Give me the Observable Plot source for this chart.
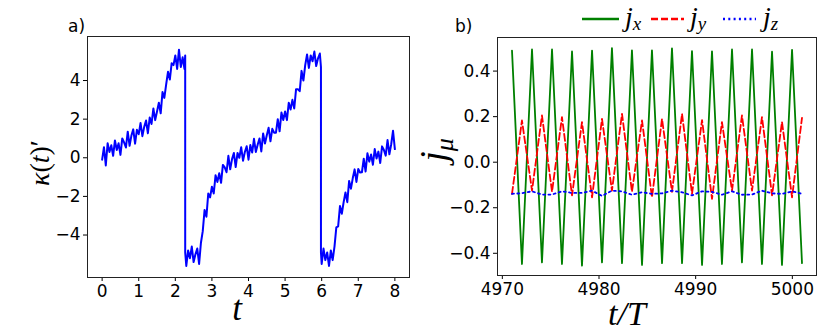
<!DOCTYPE html>
<html><head><meta charset="utf-8">
<script src="https://cdn.jsdelivr.net/npm/d3@7"></script>
<script src="https://cdn.jsdelivr.net/npm/@observablehq/plot@0.6"></script>
<style>
body{margin:0;background:#fff;}
#fig{position:relative;width:831px;height:336px;overflow:hidden;background:#fff;}
#fig svg{position:absolute;top:0;}
</style></head><body><div id="fig"></div>
<script>
// Panel a: kappa(t)'
const kT = [0,0.05,0.10,0.15,0.20,0.25,0.30,0.35,0.40,0.45,0.50,0.55,0.60,0.65,0.70,0.75,0.80,0.85,0.90,0.95,
1.00,1.05,1.10,1.15,1.20,1.25,1.30,1.35,1.40,1.45,1.50,1.55,1.60,1.65,1.70,1.75,1.80,1.85,1.90,1.95,
2.00,2.05,2.10,2.15,2.20,2.25,2.27,2.27,2.30,2.35,2.40,2.45,2.50,2.55,2.60,2.65,2.70,2.75,2.80,2.85,2.90,2.95,
3.00,3.05,3.10,3.15,3.20,3.25,3.30,3.35,3.40,3.45,3.50,3.55,3.60,3.65,3.70,3.75,3.80,3.85,3.90,3.95,
4.00,4.05,4.10,4.15,4.20,4.25,4.30,4.35,4.40,4.45,4.50,4.55,4.60,4.65,4.70,4.75,4.80,4.85,4.90,4.95,
5.00,5.05,5.10,5.15,5.20,5.25,5.30,5.35,5.40,5.45,5.50,5.55,5.60,5.65,5.70,5.75,5.80,5.85,5.90,5.95,5.98,5.98,
6.00,6.05,6.10,6.15,6.20,6.25,6.30,6.35,6.40,6.45,6.50,6.55,6.60,6.65,6.70,6.75,6.80,6.85,6.90,6.95,
7.00,7.05,7.10,7.15,7.20,7.25,7.30,7.35,7.40,7.45,7.50,7.55,7.60,7.65,7.70,7.75,7.80,7.85,7.90,7.95,8.00];
const kV = [-0.1,0.55,-0.4,0.75,0.3,0.65,0.1,0.9,0.4,0.75,0.15,1.0,0.8,0.53,1.35,0.62,1.15,1.47,0.73,1.45,
1.22,1.8,1.12,1.6,1.93,1.27,2.08,1.75,2.55,1.95,2.4,2.85,2.3,3.4,3.1,3.8,4.45,4.05,4.9,4.8,
5.3,4.6,5.6,4.7,5.2,4.6,5.3,-4.9,
-5.6,-4.8,-5.2,-4.6,-5.4,-5.0,-4.7,-5.5,-4.4,
-3.8,-2.7,-3.05,-1.85,-2.05,-1.5,-1.85,-0.9,-1.25,-0.8,-1.3,-0.37,-0.5,-0.75,0.1,-0.6,-0.07,0.25,-0.48,0.25,
0.0,0.55,-0.15,0.3,0.6,-0.1,0.66,0.27,0.98,0.3,0.67,1.0,0.33,1.26,0.74,1.17,1.55,0.85,1.5,1.3,
1.3,2.0,1.37,2.34,1.96,2.4,1.95,2.85,2.5,3.0,2.55,3.55,3.55,3.45,4.5,4.0,4.8,5.35,4.65,5.3,5.0,5.5,4.75,5.15,5.4,
4.7,-4.9,
-5.5,-4.7,-5.3,-4.9,-5.6,-4.8,-5.3,-4.6,
-3.6,-3.55,-2.5,-2.9,-2.3,-1.8,-2.3,-1.2,-1.6,-1.05,-0.6,-1.25,-0.58,-0.76,-0.75,-0.05,-0.71,0.23,-0.2,0.17,
-0.36,0.45,-0.04,0.32,-0.27,0.59,0.4,0.11,0.92,0.18,0.7,1.4,0.45];
const aXTicks = [0,1,2,3,4,5,6,7,8];
const aYTicks = [-4,-2,0,2,4];

// Panel b: currents
const jT = [4971.00,4972.03,4973.07,4974.10,4975.14,4976.17,4977.21,4978.24,4979.28,4980.31,
4981.34,4982.38,4983.41,4984.45,4985.48,4986.52,4987.55,4988.59,4989.62,4990.66,
4991.69,4992.72,4993.76,4994.79,4995.83,4996.86,4997.90,4998.93,4999.97,5001.00];
const jx = [0.49,-0.447,0.495,-0.44,0.495,-0.447,0.486,-0.454,0.49,-0.44,
0.501,-0.443,0.491,-0.451,0.491,-0.443,0.5,-0.443,0.488,-0.451,
0.487,-0.447,0.495,-0.44,0.495,-0.447,0.485,-0.451,0.493,-0.443];
const jy = [-0.139,0.183,-0.125,0.205,-0.13,0.198,-0.146,0.176,-0.154,0.19,
-0.125,0.212,-0.13,0.183,-0.154,0.19,-0.13,0.212,-0.139,0.185,
-0.161,0.176,-0.125,0.205,-0.125,0.198,-0.146,0.176,-0.154,0.195];
const jz = [-0.139,-0.136,-0.128,-0.142,-0.142,-0.128,-0.135,-0.135,-0.125,-0.148,
-0.125,-0.128,-0.143,-0.132,-0.139,-0.137,-0.125,-0.132,-0.146,-0.128,
-0.13,-0.143,-0.128,-0.143,-0.142,-0.125,-0.137,-0.139,-0.128,-0.139];
const bXTicks = [4970,4980,4990,5000];
const bYTicks = [-0.4,-0.2,0.0,0.2,0.4];
const seriesNames = ["x","y","z"];
const seriesColors = ["#008000","#ff0000","#0000ff"];

const minus = s => s.replace("-", "\u2212");
const style = {fontFamily: "DejaVu Sans", fontSize: "17px", color: "#000", background: "transparent", overflow: "visible"};
const fig = document.getElementById("fig");

// ---- Panel a
const aIdx = d3.range(kT.length);
const pa = Plot.plot({
  width: 420, height: 336,
  marginLeft: 87, marginRight: 11, marginTop: 36, marginBottom: 59,
  style,
  x: {domain: [-0.4, 8.4], label: null},
  y: {domain: [-6.2, 6.28], label: null},
  marks: [
    Plot.axisX({ticks: aXTicks, tickSize: 4, tickPadding: 3, tickFormat: d => minus(String(d)), label: null}),
    Plot.axisY({ticks: aYTicks, tickSize: 4, tickPadding: 3, tickFormat: d => minus(String(d)), label: null}),
    Plot.line(aIdx, {x: i => kT[i], y: i => kV[i], stroke: "#0000ff", strokeWidth: 2}),
    Plot.frame({stroke: "#222", strokeWidth: 1})
  ]
});
pa.style.left = "0px";
fig.appendChild(pa);

// ---- Panel b
const bData = [];
seriesNames.forEach((s, k) => {
  const vals = [jx, jy, jz][k];
  jT.forEach((t, i) => bData.push({t, v: vals[i], s}));
});
const pb = Plot.plot({
  width: 411, height: 336,
  marginLeft: 77, marginRight: 15, marginTop: 37, marginBottom: 61,
  style,
  x: {domain: [4969.5, 5002.5], label: null},
  y: {domain: [-0.4975, 0.5475], label: null},
  marks: [
    Plot.axisX({ticks: bXTicks, tickSize: 4, tickPadding: 3, tickFormat: d => String(d), label: null}),
    Plot.axisY({ticks: bYTicks, tickSize: 4, tickPadding: 3, tickFormat: d => minus(d.toFixed(1)), label: null}),
    Plot.line(bData.filter(d => d.s === "x"), {x: "t", y: "v", stroke: seriesColors[0], strokeWidth: 1.8}),
    Plot.line(bData.filter(d => d.s === "y"), {x: "t", y: "v", stroke: seriesColors[1], strokeWidth: 1.8, strokeDasharray: "7,3"}),
    Plot.line(bData.filter(d => d.s === "z"), {x: "t", y: "v", stroke: seriesColors[2], strokeWidth: 1.8, strokeDasharray: "2,3.3"}),
    Plot.frame({stroke: "#222", strokeWidth: 1})
  ]
});
pb.style.left = "420px";
fig.appendChild(pb);

// ---- Text overlay (panel letters, axis labels, legend)
const ov = d3.select(fig).append("svg").attr("width", 831).attr("height", 336).style("left", "0px");
const serif = "Liberation Serif";
ov.append("text").attr("x", 68).attr("y", 32).attr("font-family", "DejaVu Sans").attr("font-size", 17).text("a)");
ov.append("text").attr("x", 455).attr("y", 32).attr("font-family", "DejaVu Sans").attr("font-size", 17).text("b)");

// x labels
ov.append("text").attr("x", 237).attr("y", 320).attr("text-anchor", "middle")
  .attr("font-family", serif).attr("font-style", "italic").attr("font-size", 35).text("t");
ov.append("text").attr("x", 627).attr("y", 325).attr("text-anchor", "middle")
  .attr("font-family", serif).attr("font-style", "italic").attr("font-size", 34).text("t/T");

// y labels
const ya = ov.append("text").attr("transform", "translate(49,163) rotate(-90)").attr("text-anchor", "middle")
  .attr("font-family", serif).attr("font-size", 28);
ya.append("tspan").attr("font-style", "italic").text("\u03ba");
ya.append("tspan").text("(");
ya.append("tspan").attr("font-style", "italic").text("t");
ya.append("tspan").text(")\u2032");
const yb = ov.append("text").attr("transform", "translate(446,150) rotate(-90)").attr("text-anchor", "middle")
  .attr("font-family", serif).attr("font-style", "italic").attr("font-size", 38);
yb.append("tspan").text("j");
yb.append("tspan").attr("font-size", 26).attr("dy", 7).text("\u03bc");

// legend
const legX = [[582, 619, 625], [651, 684, 690], [723, 756, 763]];
const dashes = [null, "7,3", "2,3.3"];
seriesNames.forEach((s, k) => {
  ov.append("line").attr("x1", legX[k][0]).attr("x2", legX[k][1]).attr("y1", 19).attr("y2", 19)
    .attr("stroke", seriesColors[k]).attr("stroke-width", 2.6).attr("stroke-dasharray", dashes[k]);
  const t = ov.append("text").attr("x", legX[k][2]).attr("y", 26).attr("font-family", serif)
    .attr("font-style", "italic").attr("font-size", 28);
  t.append("tspan").text("j");
  t.append("tspan").attr("font-size", 19).attr("dy", 4).text(s);
});
</script>
</body></html>
